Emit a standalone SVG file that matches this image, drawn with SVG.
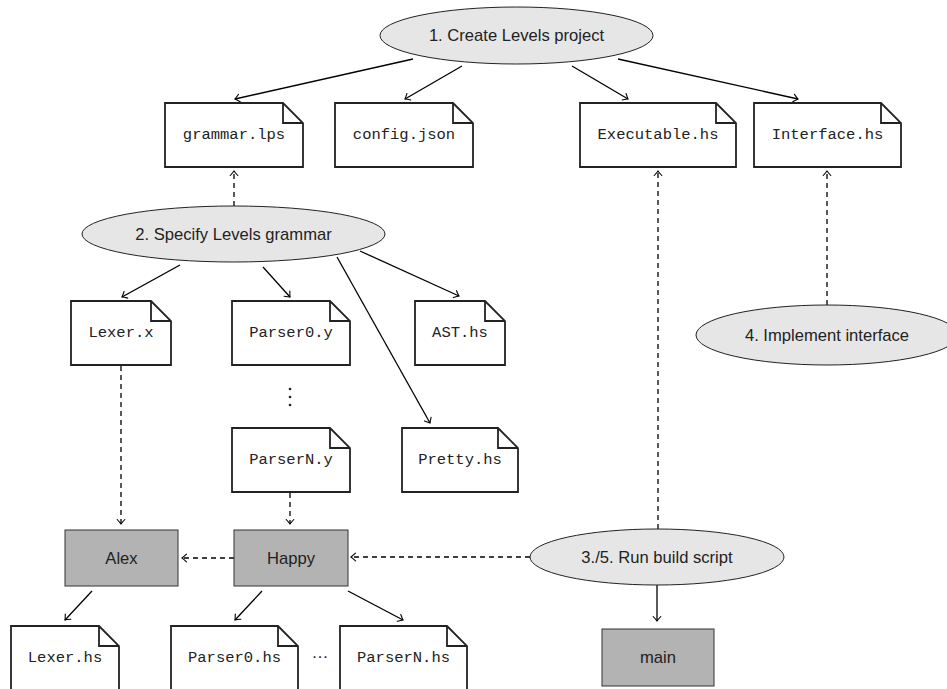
<svg xmlns="http://www.w3.org/2000/svg" width="947" height="689" viewBox="0 0 947 689">
<defs>
<marker id="arr" viewBox="-6 -5 8 10" refX="0" refY="0" markerWidth="8" markerHeight="10" markerUnits="userSpaceOnUse" orient="auto">
<path d="M -4.5 -3.8 Q -1.2 -0.8 0 0 Q -1.2 0.8 -4.5 3.8" fill="none" stroke="#000" stroke-width="1.1" stroke-linecap="round"/>
</marker>
<style>
.ell{fill:#e6e6e6;stroke:#222;stroke-width:1}
.file{fill:#fff;stroke:#222;stroke-width:1.8;stroke-linejoin:miter}
.tool{fill:#b3b3b3;stroke:#333;stroke-width:1}
.sans{font-family:"Liberation Sans","DejaVu Sans",sans-serif;font-size:16.6px;fill:#222;text-anchor:middle;dominant-baseline:central}
.mono{font-family:"Liberation Mono","DejaVu Sans Mono",monospace;font-size:15.5px;fill:#222;text-anchor:middle;dominant-baseline:central}
.c{fill:none;stroke:#000;stroke-width:1.3;marker-end:url(#arr)}
.d{fill:none;stroke:#000;stroke-width:1.3;stroke-dasharray:5 4;marker-end:url(#arr)}
</style>
</defs>

<g id="connectors">
<line class="c" x1="413" y1="59" x2="235" y2="99"/>
<line class="c" x1="462" y1="66" x2="405" y2="99"/>
<line class="c" x1="572" y1="66" x2="628" y2="99"/>
<line class="c" x1="618" y1="59" x2="798" y2="99"/>
<line class="d" x1="234" y1="206" x2="234" y2="171"/>
<line class="c" x1="180" y1="265" x2="122" y2="297"/>
<line class="c" x1="263" y1="267" x2="290" y2="297"/>
<line class="c" x1="360" y1="251" x2="459" y2="296"/>
<line class="c" x1="337" y1="257" x2="430" y2="423"/>
<line class="d" x1="121" y1="366" x2="121" y2="524"/>
<line class="d" x1="290" y1="493" x2="290" y2="524"/>
<line class="d" x1="234" y1="558" x2="182" y2="558"/>
<line class="d" x1="530" y1="557" x2="351" y2="557"/>
<line class="d" x1="658" y1="529" x2="658" y2="171"/>
<line class="d" x1="827" y1="305" x2="827" y2="171"/>
<line class="c" x1="657" y1="585" x2="657" y2="621"/>
<line class="c" x1="92" y1="591" x2="65" y2="620"/>
<line class="c" x1="262" y1="591" x2="235" y2="620"/>
<line class="c" x1="348" y1="591" x2="403" y2="620"/>
</g>

<g id="step1">
<ellipse class="ell" cx="516.5" cy="35.5" rx="136.5" ry="28.5"/>
<text class="sans" x="516.5" y="35.5">1. Create Levels project</text>
</g>
<g id="step2">
<ellipse class="ell" cx="233.5" cy="234" rx="151.5" ry="28"/>
<text class="sans" x="233.5" y="234">2. Specify Levels grammar</text>
</g>
<g id="step3">
<ellipse class="ell" cx="657" cy="557" rx="127" ry="28"/>
<text class="sans" x="657" y="557">3./5. Run build script</text>
</g>
<g id="step4">
<ellipse class="ell" cx="827" cy="335" rx="131" ry="30"/>
<text class="sans" x="827" y="335">4. Implement interface</text>
</g>

<g id="grammar">
<path class="file" d="M165 103 H283 L303 123 V167 H165 Z M283 103 V123 H303"/>
<text class="mono" x="234" y="135">grammar.lps</text>
</g>
<g id="config">
<path class="file" d="M335 103 H453 L473 123 V167 H335 Z M453 103 V123 H473"/>
<text class="mono" x="404" y="135">config.json</text>
</g>
<g id="executable">
<path class="file" d="M580 103 H716 L736 123 V167 H580 Z M716 103 V123 H736"/>
<text class="mono" x="658" y="135">Executable.hs</text>
</g>
<g id="interface">
<path class="file" d="M754 103 H881 L901 123 V167 H754 Z M881 103 V123 H901"/>
<text class="mono" x="827.5" y="135">Interface.hs</text>
</g>

<g id="lexerx">
<path class="file" d="M71 301 H151 L171 321 V365 H71 Z M151 301 V321 H171"/>
<text class="mono" x="121" y="333">Lexer.x</text>
</g>
<g id="parser0y">
<path class="file" d="M232 301 H330 L350 321 V365 H232 Z M330 301 V321 H350"/>
<text class="mono" x="291" y="333">Parser0.y</text>
</g>
<g id="vdots">
<circle cx="290" cy="389" r="1.3" fill="#222"/>
<circle cx="290" cy="397" r="1.3" fill="#222"/>
<circle cx="290" cy="405" r="1.3" fill="#222"/>
</g>
<g id="parserNy">
<path class="file" d="M232 428 H330 L350 448 V492 H232 Z M330 428 V448 H350"/>
<text class="mono" x="291" y="460">ParserN.y</text>
</g>
<g id="ast">
<path class="file" d="M415 301 H485 L505 321 V365 H415 Z M485 301 V321 H505"/>
<text class="mono" x="460" y="333">AST.hs</text>
</g>
<g id="pretty">
<path class="file" d="M402 428 H498 L518 448 V492 H402 Z M498 428 V448 H518"/>
<text class="mono" x="460" y="460">Pretty.hs</text>
</g>

<g id="alex">
<rect class="tool" x="65" y="530" width="113" height="56"/>
<text class="sans" x="121.5" y="558">Alex</text>
</g>
<g id="happy">
<rect class="tool" x="234" y="530" width="114" height="56"/>
<text class="sans" x="291" y="558">Happy</text>
</g>
<g id="main">
<rect class="tool" x="602" y="629" width="112" height="57"/>
<text class="sans" x="658" y="657">main</text>
</g>

<g id="lexerhs">
<path class="file" d="M11 626 H99 L119 646 V700 H11 Z M99 626 V646 H119"/>
<text class="mono" x="65" y="658">Lexer.hs</text>
</g>
<g id="parser0hs">
<path class="file" d="M171 626 H278 L298 646 V700 H171 Z M278 626 V646 H298"/>
<text class="mono" x="234.5" y="658">Parser0.hs</text>
</g>
<g id="hdots">
<text class="sans" x="320" y="656">···</text>
</g>
<g id="parserNhs">
<path class="file" d="M340 626 H447 L467 646 V700 H340 Z M447 626 V646 H467"/>
<text class="mono" x="403.5" y="658">ParserN.hs</text>
</g>
</svg>
